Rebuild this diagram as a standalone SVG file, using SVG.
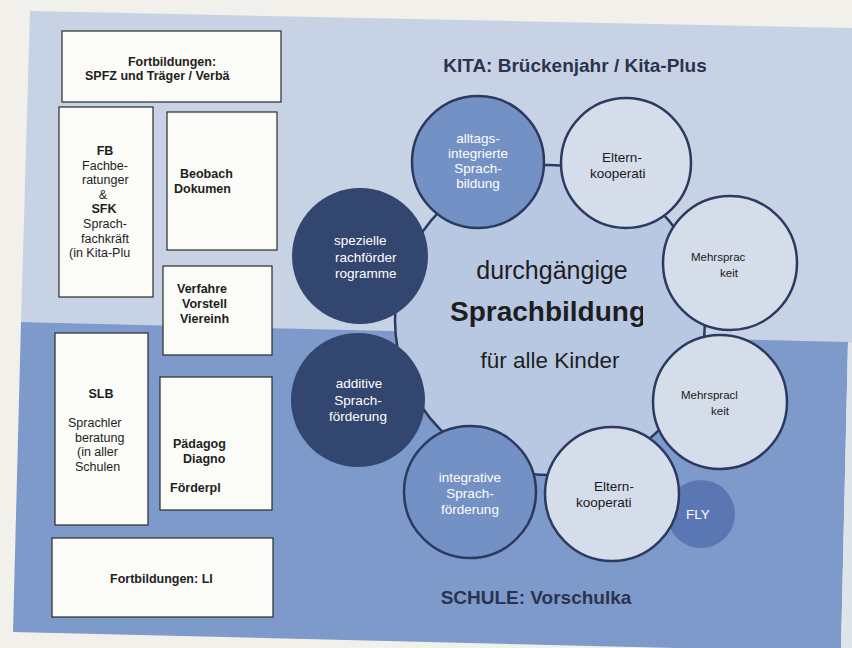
<svg xmlns="http://www.w3.org/2000/svg" width="852" height="648" viewBox="0 0 852 648">
<defs>
<clipPath id="clipSB"><rect x="440" y="290" width="203" height="40"/></clipPath>
</defs>
<style>
.box{fill:#fbfbf8;stroke:#2b2b2b;stroke-width:1.2}
.bt{font-family:"Liberation Sans",Arial,sans-serif;font-size:12.5px;fill:#1e1e1e}
.b{font-weight:bold}
.c{text-anchor:middle}
.ct{font-family:"Liberation Sans",Arial,sans-serif;font-size:13.5px}
.sm{font-size:11.5px}
.w{fill:#ffffff}
.k{fill:#1a1a1a}
.ring{stroke:#2c3a60;stroke-width:2.5}
.light{fill:#d5dcea}
.mid{fill:#7391c4}
.dark{fill:#33466f}
.h{font-family:"Liberation Sans",Arial,sans-serif;font-weight:bold;font-size:19px;fill:#2c3350;text-anchor:middle}
</style>
<rect x="0" y="0" width="852" height="648" fill="#f1f0eb"/>
<polygon points="30,11 852,28 852,343 21,322" fill="#c8d2e5"/>
<polygon points="21,322 848,342 841,652 13,632" fill="#7d9aca"/>
<polygon points="848,342 852,343 852,648 841,648" fill="#dfe3ea"/>

<g id="box-fortbildungen-spfz">
<rect class="box" x="62" y="31" width="219" height="71"/>
<text class="bt b c" x="172" y="66">Fortbildungen:</text>
<text class="bt b" x="85" y="80">SPFZ und Träger / Verbä</text>
</g>
<g id="box-fb-sfk">
<rect class="box" x="59" y="107" width="94" height="190"/>
<text class="bt b c" x="105" y="155">FB</text>
<text class="bt c" x="105" y="169.5">Fachbe-</text>
<text class="bt" x="82" y="184">ratunger</text>
<text class="bt c" x="103" y="198.5">&amp;</text>
<text class="bt b c" x="104" y="213">SFK</text>
<text class="bt c" x="105" y="228">Sprach-</text>
<text class="bt" x="81" y="242.5">fachkräft</text>
<text class="bt" x="69" y="257">(in Kita-Plu</text>
</g>
<g id="box-beobachtung">
<rect class="box" x="167" y="112" width="110" height="138"/>
<text class="bt b" x="180" y="178">Beobach</text>
<text class="bt b" x="174" y="193">Dokumen</text>
</g>
<g id="box-verfahren">
<rect class="box" x="163" y="266" width="109" height="89"/>
<text class="bt b" x="177" y="293">Verfahre</text>
<text class="bt b" x="182" y="308">Vorstell</text>
<text class="bt b" x="180" y="323">Viereinh</text>
</g>
<g id="box-slb">
<rect class="box" x="55" y="333" width="93" height="192"/>
<text class="bt b c" x="101" y="398">SLB</text>
<text class="bt" x="68" y="427">Sprachler</text>
<text class="bt" x="75" y="441.5">beratung</text>
<text class="bt" x="77" y="456">(in aller</text>
<text class="bt" x="75" y="470.5">Schulen</text>
</g>
<g id="box-diagnostik">
<rect class="box" x="160" y="377" width="112" height="133"/>
<text class="bt b" x="173" y="448">Pädagog</text>
<text class="bt b" x="183" y="463">Diagno</text>
<text class="bt b" x="170" y="492">Förderpl</text>
</g>
<g id="box-fortbildungen-li">
<rect class="box" x="52" y="538" width="221" height="79"/>
<text class="bt b" x="110" y="583">Fortbildungen: LI</text>
</g>

<text id="title-kita" class="h" x="575" y="72">KITA: Brückenjahr / Kita-Plus</text>
<text id="title-schule" class="h" x="536" y="604">SCHULE: Vorschulka</text>

<g id="center">
<circle cx="550" cy="320" r="155" fill="#b8c8e2"/>
<text x="552" y="279" class="c" font-family="Liberation Sans, Arial, sans-serif" font-size="25" fill="#1e1e1e">durchgängige</text>
<text x="450" y="321" clip-path="url(#clipSB)" font-family="Liberation Sans, Arial, sans-serif" font-size="28" font-weight="bold" fill="#1e1e1e">Sprachbildung</text>
<text x="550" y="368" class="c" font-family="Liberation Sans, Arial, sans-serif" font-size="22.5" fill="#1e1e1e">für alle Kinder</text>
</g>

<g id="connectors">
<circle cx="550" cy="320" r="155" fill="none" class="ring"/>
</g>

<g id="c-alltags">
<circle cx="478" cy="162" r="66" class="mid ring"/>
<text class="ct w c" x="478" y="143">alltags-</text>
<text class="ct w c" x="478" y="158">integrierte</text>
<text class="ct w c" x="478" y="173">Sprach-</text>
<text class="ct w c" x="478" y="188">bildung</text>
</g>
<g id="c-eltern-kita">
<circle cx="626" cy="163" r="65" class="light ring"/>
<text class="ct k c" x="622" y="162">Eltern-</text>
<text class="ct k" x="590" y="178">kooperati</text>
</g>
<g id="c-mehrsprach-kita">
<circle cx="730" cy="263" r="67" class="light ring"/>
<text class="ct sm k" x="691" y="261">Mehrsprac</text>
<text class="ct sm k" x="720" y="277">keit</text>
</g>
<g id="c-mehrsprach-schule">
<circle cx="720" cy="402" r="67" class="light ring"/>
<text class="ct sm k" x="681" y="399">Mehrspracl</text>
<text class="ct sm k" x="711" y="415">keit</text>
</g>
<g id="c-fly">
<circle cx="701" cy="514" r="34" fill="#5a77b3"/>
</g>
<g id="c-eltern-schule">
<circle cx="612" cy="494" r="67" class="light ring"/>
<text class="ct k c" x="614" y="491">Eltern-</text>
<text class="ct k" x="576" y="507">kooperati</text>
</g>
<g id="c-fly-label">
<text class="ct w" x="686" y="519" font-size="14.5">FLY</text>
</g>
<g id="c-integrative">
<circle cx="470" cy="492" r="66" class="mid ring"/>
<text class="ct w c" x="470" y="482">integrative</text>
<text class="ct w c" x="470" y="498">Sprach-</text>
<text class="ct w c" x="470" y="514">förderung</text>
</g>
<g id="c-additive">
<circle cx="358" cy="400" r="67" class="dark"/>
<text class="ct w c" x="359" y="388">additive</text>
<text class="ct w c" x="358" y="405">Sprach-</text>
<text class="ct w c" x="358" y="421">förderung</text>
</g>
<g id="c-spezielle">
<circle cx="360" cy="256" r="68" class="dark"/>
<text class="ct w" x="334" y="245">spezielle</text>
<text class="ct w" x="335" y="262">rachförder</text>
<text class="ct w" x="335" y="278">rogramme</text>
</g>
</svg>
